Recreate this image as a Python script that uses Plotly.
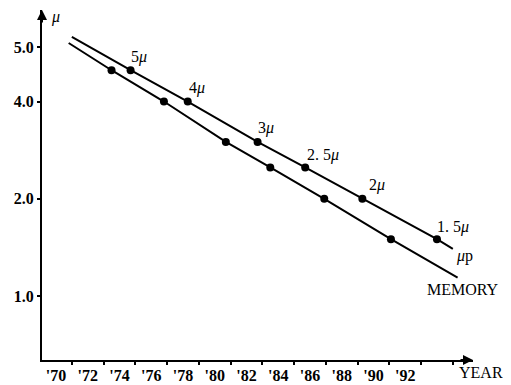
import math
import plotly.graph_objects as go

# Data
mup_years = [1974.7, 1978.3, 1982.7, 1985.7, 1989.3, 1994.0]
mup_sizes = [5.0, 4.0, 3.0, 2.5, 2.0, 1.5]
mup_labels = ["5μ", "4μ", "3μ", "2. 5μ", "2μ", "1. 5μ"]
mup_line_years = [1971.0] + mup_years + [1995.0]
mup_line_sizes = [6.34] + mup_sizes + [1.40]

mem_years = [1973.5, 1976.8, 1980.7, 1983.5, 1986.9, 1991.1]
mem_sizes = [5.0, 4.0, 3.0, 2.5, 2.0, 1.5]
mem_line_years = [1970.8] + mem_years + [1995.3]
mem_line_sizes = [6.07] + mem_sizes + [1.14]

label_years = [1975.2, 1978.9, 1983.2, 1986.8, 1990.2, 1995.0]
label_sizes = [5.5, 4.4, 3.31, 2.73, 2.21, 1.64]

x_label_years = list(range(1970, 1993, 2))
x_label_text = ["'%02d" % (y % 100) for y in x_label_years]
x_minor_years = list(range(1971, 1996, 2))
y_tick_vals = [1, 2, 4, 5.9]
y_tick_text = ["1.0", "2.0", "4.0", "5.0"]

FONT = "Liberation Serif"
TXT = dict(family=FONT, size=16, color="black")

fig = go.Figure()
fig.add_trace(go.Scatter(x=mup_line_years, y=mup_line_sizes, mode="lines",
                         line=dict(color="black", width=2), hoverinfo="skip"))
fig.add_trace(go.Scatter(x=mem_line_years, y=mem_line_sizes, mode="lines",
                         line=dict(color="black", width=2), hoverinfo="skip"))
fig.add_trace(go.Scatter(x=mup_years, y=mup_sizes, mode="markers",
                         marker=dict(color="black", size=8)))
fig.add_trace(go.Scatter(x=mem_years, y=mem_sizes, mode="markers",
                         marker=dict(color="black", size=8)))

# log axis: annotation y given in log10 units
for xv, yv, t in zip(label_years, label_sizes, mup_labels):
    fig.add_annotation(x=xv, y=math.log10(yv), text=t.replace("μ", "<i>μ</i>"),
                       showarrow=False, font=TXT)

fig.add_annotation(x=1995.76, y=math.log10(1.33), text="<i>μ</i>p", showarrow=False, font=TXT)
fig.add_annotation(x=1995.64, y=math.log10(1.05), text="MEMORY", showarrow=False, font=TXT)
fig.add_annotation(x=1969.94, y=math.log10(7.31), text="<i>μ</i>", showarrow=False, font=TXT)
fig.add_annotation(x=1.0186, xref="paper", y=-0.037, yref="paper", text="YEAR",
                   showarrow=False, yanchor="middle", xanchor="center", font=TXT)

# axis arrows
fig.add_annotation(x=1, y=0, xref="paper", yref="paper", ax=-14, ay=0, text="",
                   showarrow=True, arrowhead=2, arrowsize=1, arrowwidth=2, arrowcolor="black")
fig.add_annotation(x=0, y=1, xref="paper", yref="paper", ax=0, ay=14, text="",
                   showarrow=True, arrowhead=2, arrowsize=1, arrowwidth=2, arrowcolor="black")

fig.update_layout(
    width=503, height=377,
    margin=dict(l=34, r=38, t=2, b=25),
    plot_bgcolor="white", paper_bgcolor="white",
    showlegend=False,
    font=TXT,
    xaxis=dict(range=[1969.12, 1996.27], showgrid=False, zeroline=False, automargin=False,
               showline=True, linecolor="black", linewidth=2,
               tickmode="array", tickvals=x_label_years, ticktext=x_label_text,
               ticks="", tickfont=dict(family=FONT, size=16, weight="bold"),
               minor=dict(tickmode="array", tickvals=x_minor_years, ticks="outside",
                          ticklen=3, tickwidth=2, tickcolor="black")),
    yaxis=dict(type="log", range=[-0.198, 0.8854], showgrid=False, zeroline=False,
               automargin=False,
               showline=True, linecolor="black", linewidth=2,
               tickmode="array", tickvals=y_tick_vals, ticktext=y_tick_text,
               ticks="outside", ticklen=3, tickwidth=2, tickcolor="black",
               tickfont=dict(family=FONT, size=16, weight="bold")),
)

fig.write_html("out.html")
